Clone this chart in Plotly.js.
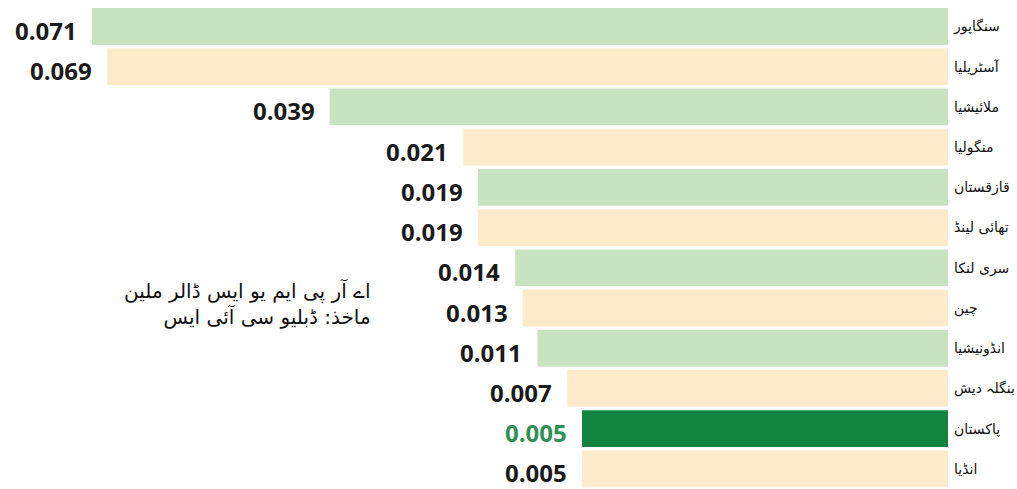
<!DOCTYPE html>
<html>
<head>
<meta charset="utf-8">
<script src="https://cdn.plot.ly/plotly-3.0.1.min.js"></script>
<style>html,body{margin:0;padding:0;background:#fff;}#chart{width:1017px;height:489px;}</style>
</head>
<body>
<div id="chart"></div>
<script>
// Data (top to bottom)
const countries = ["سنگاپور", "آسٹریلیا", "ملائیشیا", "منگولیا", "قازقستان", "تھائی لینڈ", "سری لنکا", "چین", "انڈونیشیا", "بنگلہ دیش", "پاکستان", "انڈیا"];
const values = [0.071, 0.069, 0.039, 0.021, 0.019, 0.019, 0.014, 0.013, 0.011, 0.007, 0.005, 0.005];
const valueLabels = ["0.071", "0.069", "0.039", "0.021", "0.019", "0.019", "0.014", "0.013", "0.011", "0.007", "0.005", "0.005"];
const highlight = "پاکستان";
const noteLines = ["اے آر پی ایم یو ایس ڈالر ملین", "ماخذ: ڈبلیو سی آئی ایس"];

// Styling
const STUB = 0.0443; // bars in the infographic start from a common stub at the right edge
const GREEN = "#c7e3c0", BEIGE = "#fdebcc", DARK = "#13843f", DARK_TEXT = "#2f8f55";

const colors = countries.map((c, i) => c === highlight ? DARK : (i % 2 === 0 ? GREEN : BEIGE));

const trace = {
  type: "bar",
  orientation: "h",
  y: countries,
  x: values.map(v => v + STUB),
  base: -STUB,
  marker: {color: colors, line: {width: 0}},
  hoverinfo: "skip"
};

const annotations = values.map((v, i) => ({
  x: v, y: countries[i], xref: "x", yref: "y",
  text: valueLabels[i], showarrow: false, xanchor: "right", yanchor: "middle",
  xshift: -13, yshift: -4,
  font: {family: "Open Sans, sans-serif", size: 24, weight: 700,
         color: countries[i] === highlight ? DARK_TEXT : "#1a1a1a"}
}));

annotations.push({
  xref: "paper", yref: "paper", x: 0.393, y: 0.382, xanchor: "right", yanchor: "middle",
  showarrow: false, align: "right",
  text: noteLines.join("<br>"),
  font: {family: "DejaVu Sans, sans-serif", size: 20, color: "#111"}
});

const layout = {
  width: 1017, height: 489,
  margin: {l: 0, r: 69, t: 4, b: 0, pad: 0},
  paper_bgcolor: "#ffffff", plot_bgcolor: "#ffffff",
  showlegend: false,
  bargap: 0.085,
  xaxis: {range: [0.0834, -STUB], showgrid: false, zeroline: false, showticklabels: false, ticks: "", fixedrange: true},
  yaxis: {type: "category", autorange: "reversed", side: "right", showgrid: false, zeroline: false,
          ticks: "", ticklabelstandoff: 5,
          tickfont: {family: "DejaVu Sans, sans-serif", size: 14, color: "#111"}},
  annotations: annotations
};

Plotly.newPlot("chart", [trace], layout, {displayModeBar: false, staticPlot: true});
</script>
</body>
</html>
